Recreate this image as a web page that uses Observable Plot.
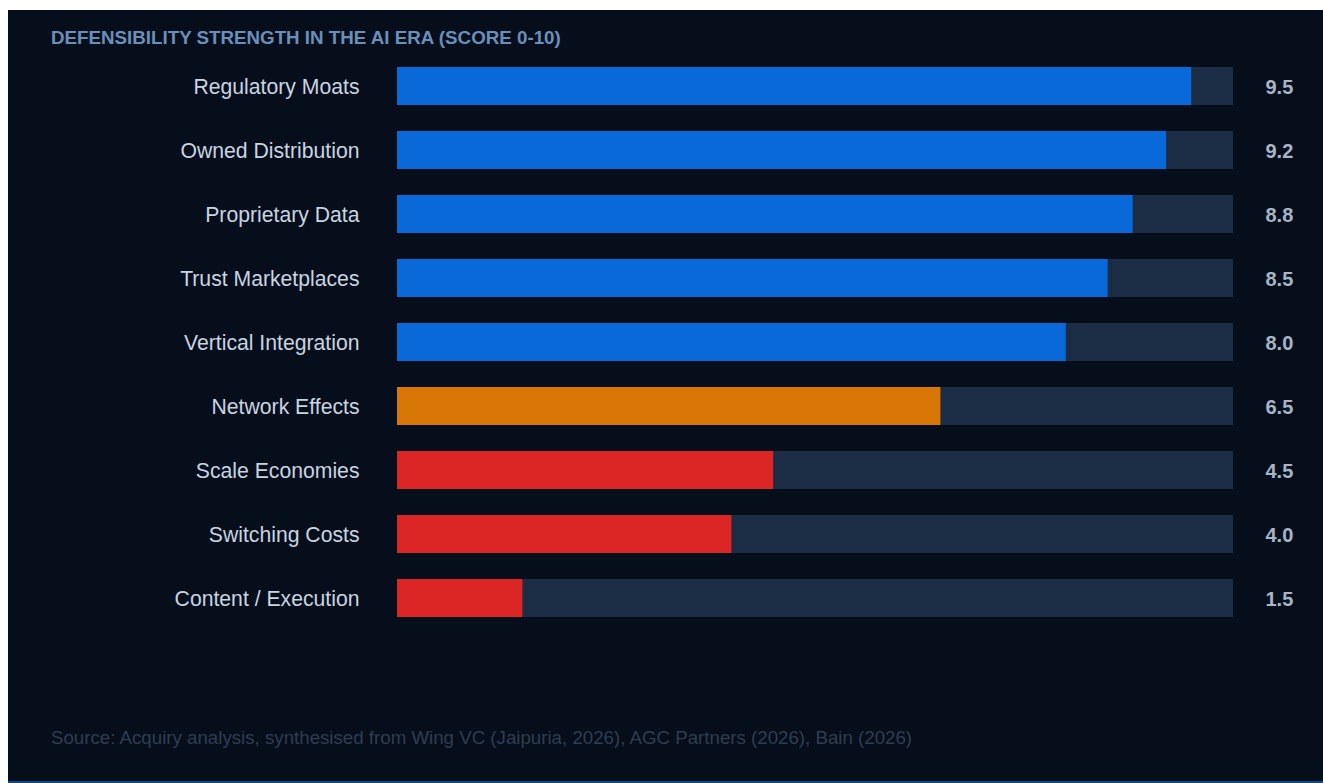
<!DOCTYPE html>
<html>
<head>
<meta charset="utf-8">
<script src="https://cdn.jsdelivr.net/npm/d3@7"></script>
<script src="https://cdn.jsdelivr.net/npm/@observablehq/plot@0.6"></script>
<style>
  html, body { margin: 0; padding: 0; background: #ffffff; }
  body { width: 1323px; height: 783px; overflow: hidden; position: relative; font-family: "Liberation Sans", Arial, sans-serif; }
  #panel { position: absolute; left: 8px; top: 10px; width: 1315px; height: 771px; background: #060e1c; border-bottom: 2px solid #0c4a86; }
  #title { position: absolute; left: 43px; top: 17px; font-size: 18.75px; font-weight: bold; color: #6b8fb8; white-space: nowrap; }
  #chart { position: absolute; left: 0; top: 0; }
  #source { position: absolute; left: 43px; top: 717px; font-size: 18.7px; color: #2e3d51; white-space: nowrap; }
</style>
</head>
<body>
<div id="panel">
  <div id="chart"></div>
  <div id="title">DEFENSIBILITY STRENGTH IN THE AI ERA (SCORE 0-10)</div>
  <div id="source">Source: Acquiry analysis, synthesised from Wing VC (Jaipuria, 2026), AGC Partners (2026), Bain (2026)</div>
</div>
<script>
const categories = ["Regulatory Moats", "Owned Distribution", "Proprietary Data", "Trust Marketplaces", "Vertical Integration", "Network Effects", "Scale Economies", "Switching Costs", "Content / Execution"];
const scores = [9.5, 9.2, 8.8, 8.5, 8.0, 6.5, 4.5, 4.0, 1.5];
const tiers = ["strong", "strong", "strong", "strong", "strong", "medium", "weak", "weak", "weak"];
const maxScore = 10;

const tierColor = {strong: "#0a69d8", medium: "#d97706", weak: "#dc2626"};
const data = categories.map((c, i) => ({category: c, score: scores[i], tier: tiers[i]}));

const chart = Plot.plot({
  width: 1315,
  height: 660,
  marginLeft: 389,
  marginRight: 90,
  marginTop: 31,
  marginBottom: 26,
  style: {background: "transparent", fontFamily: "'Liberation Sans', Arial, sans-serif"},
  x: {domain: [0, maxScore], axis: null},
  y: {domain: categories, padding: 0.406, label: null},
  marks: [
    Plot.barX(data, {y: "category", x1: 0, x2: maxScore, fill: "#1b2d45"}),
    Plot.barX(data, {y: "category", x1: 0, x2: "score", fill: d => tierColor[d.tier]}),
    Plot.axisY({tickSize: 0, tickPadding: 38, fontSize: 21.2, color: "#c9d4e1", label: null, dy: 1}),
    Plot.text(data, {y: "category", x: maxScore, text: d => d.score.toFixed(1), dx: 32, dy: 1, textAnchor: "start", fill: "#a7b5c6", fontSize: 20, fontWeight: "bold"})
  ]
});
document.getElementById("chart").appendChild(chart);
</script>
</body>
</html>
